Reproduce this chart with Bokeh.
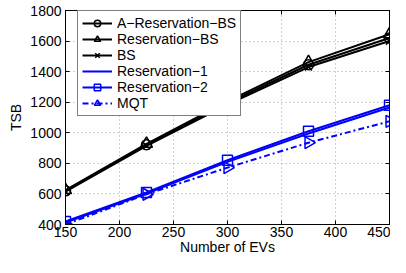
import math
from bokeh.plotting import figure
from bokeh.models import Range1d, FixedTicker, Legend, LegendItem, LinearAxis
from bokeh.embed import file_html
from bokeh.resources import INLINE

num_evs = [150, 225, 300, 375, 450]
a_reservation_bs = [620, 922, 1195, 1445, 1620]
reservation_bs = [625, 928, 1205, 1462, 1645]
bs = [615, 915, 1185, 1430, 1600]
reservation_1 = [412, 602, 810, 995, 1165]
reservation_2 = [420, 610, 820, 1010, 1180]
mqt = [400, 598, 772, 935, 1075]

x_ticks = [150, 200, 250, 300, 350, 400, 450]
y_ticks = [400, 600, 800, 1000, 1200, 1400, 1600, 1800]

FONT = "Liberation Sans"

p = figure(width=390, height=257, output_backend="svg", toolbar_location=None,
           x_range=Range1d(150, 450), y_range=Range1d(400, 1800),
           min_border_left=65, min_border_right=1, min_border_top=10, min_border_bottom=0)
p.background_fill_color = "white"
p.border_fill_color = "white"
p.outline_line_color = "black"
p.outline_line_width = 1

p.xaxis.ticker = FixedTicker(ticks=x_ticks)
p.yaxis.ticker = FixedTicker(ticks=y_ticks)
p.xaxis.axis_label = "Number of EVs"
p.yaxis.axis_label = "TSB"
for ax in (p.xaxis, p.yaxis):
    ax.axis_line_color = "black"
    ax.major_tick_line_color = "black"
    ax.major_tick_in = 4
    ax.major_tick_out = 0
    ax.minor_tick_line_color = None
    ax.major_label_text_font = FONT
    ax.major_label_text_font_size = "14px"
    ax.major_label_text_color = "black"
    ax.axis_label_text_font = FONT
    ax.axis_label_text_font_size = "14px"
    ax.axis_label_text_font_style = "normal"
    ax.axis_label_text_color = "black"
p.xaxis.major_label_standoff = 2
p.xaxis.axis_label_standoff = -1
p.yaxis.major_label_standoff = 4
p.yaxis.axis_label_standoff = 3

# mirrored tick marks on top and right (box on)
top_ax = LinearAxis(ticker=FixedTicker(ticks=x_ticks), major_tick_in=4, major_tick_out=0,
                    minor_tick_line_color=None, major_label_text_color=None,
                    major_label_standoff=0, axis_line_color="black")
right_ax = LinearAxis(ticker=FixedTicker(ticks=y_ticks), major_tick_in=4, major_tick_out=0,
                      minor_tick_line_color=None, major_label_text_color=None,
                      major_label_standoff=0, axis_line_color="black")
p.add_layout(top_ax, "above")
p.add_layout(right_ax, "right")

for g in (p.xgrid, p.ygrid):
    g.grid_line_color = "#a0a0a0"
    g.grid_line_dash = "1 3"
    g.grid_line_width = 1

series = [
    ("A\u2212Reservation\u2212BS", a_reservation_bs, "black", "solid", "circle", 0, 10),
    ("Reservation\u2212BS", reservation_bs, "black", "solid", "triangle", 0, 12),
    ("BS", bs, "black", "solid", "x", 0, 10),
    ("Reservation\u22121", reservation_1, "blue", "solid", None, 0, 0),
    ("Reservation\u22122", reservation_2, "blue", "solid", "square", 0, 10),
    ("MQT", mqt, "blue", "6 3 2 3", "triangle", -math.pi / 2, 12),
]

items = []
for label, ys, color, dash, marker, ang, size in series:
    rs = []
    rs.append(p.line(num_evs, ys, line_color=color, line_width=2, line_dash=dash))
    if marker is not None:
        rs.append(p.scatter(num_evs, ys, marker=marker, size=size, angle=ang,
                            fill_color=None, line_color=color, line_width=1.5))
    items.append(LegendItem(label=label, renderers=rs))

legend = Legend(items=items, location=(12, 108))
legend.label_text_font = FONT
legend.label_text_font_size = "14px"
legend.label_text_color = "black"
legend.label_height = 16
legend.glyph_height = 16
legend.glyph_width = 30
legend.spacing = 0
legend.padding = 4
legend.label_standoff = 5
legend.border_line_color = "black"
legend.border_line_width = 1
legend.background_fill_color = "white"
legend.background_fill_alpha = 1
p.add_layout(legend)

open("out.html", "w").write(file_html(p, INLINE))
